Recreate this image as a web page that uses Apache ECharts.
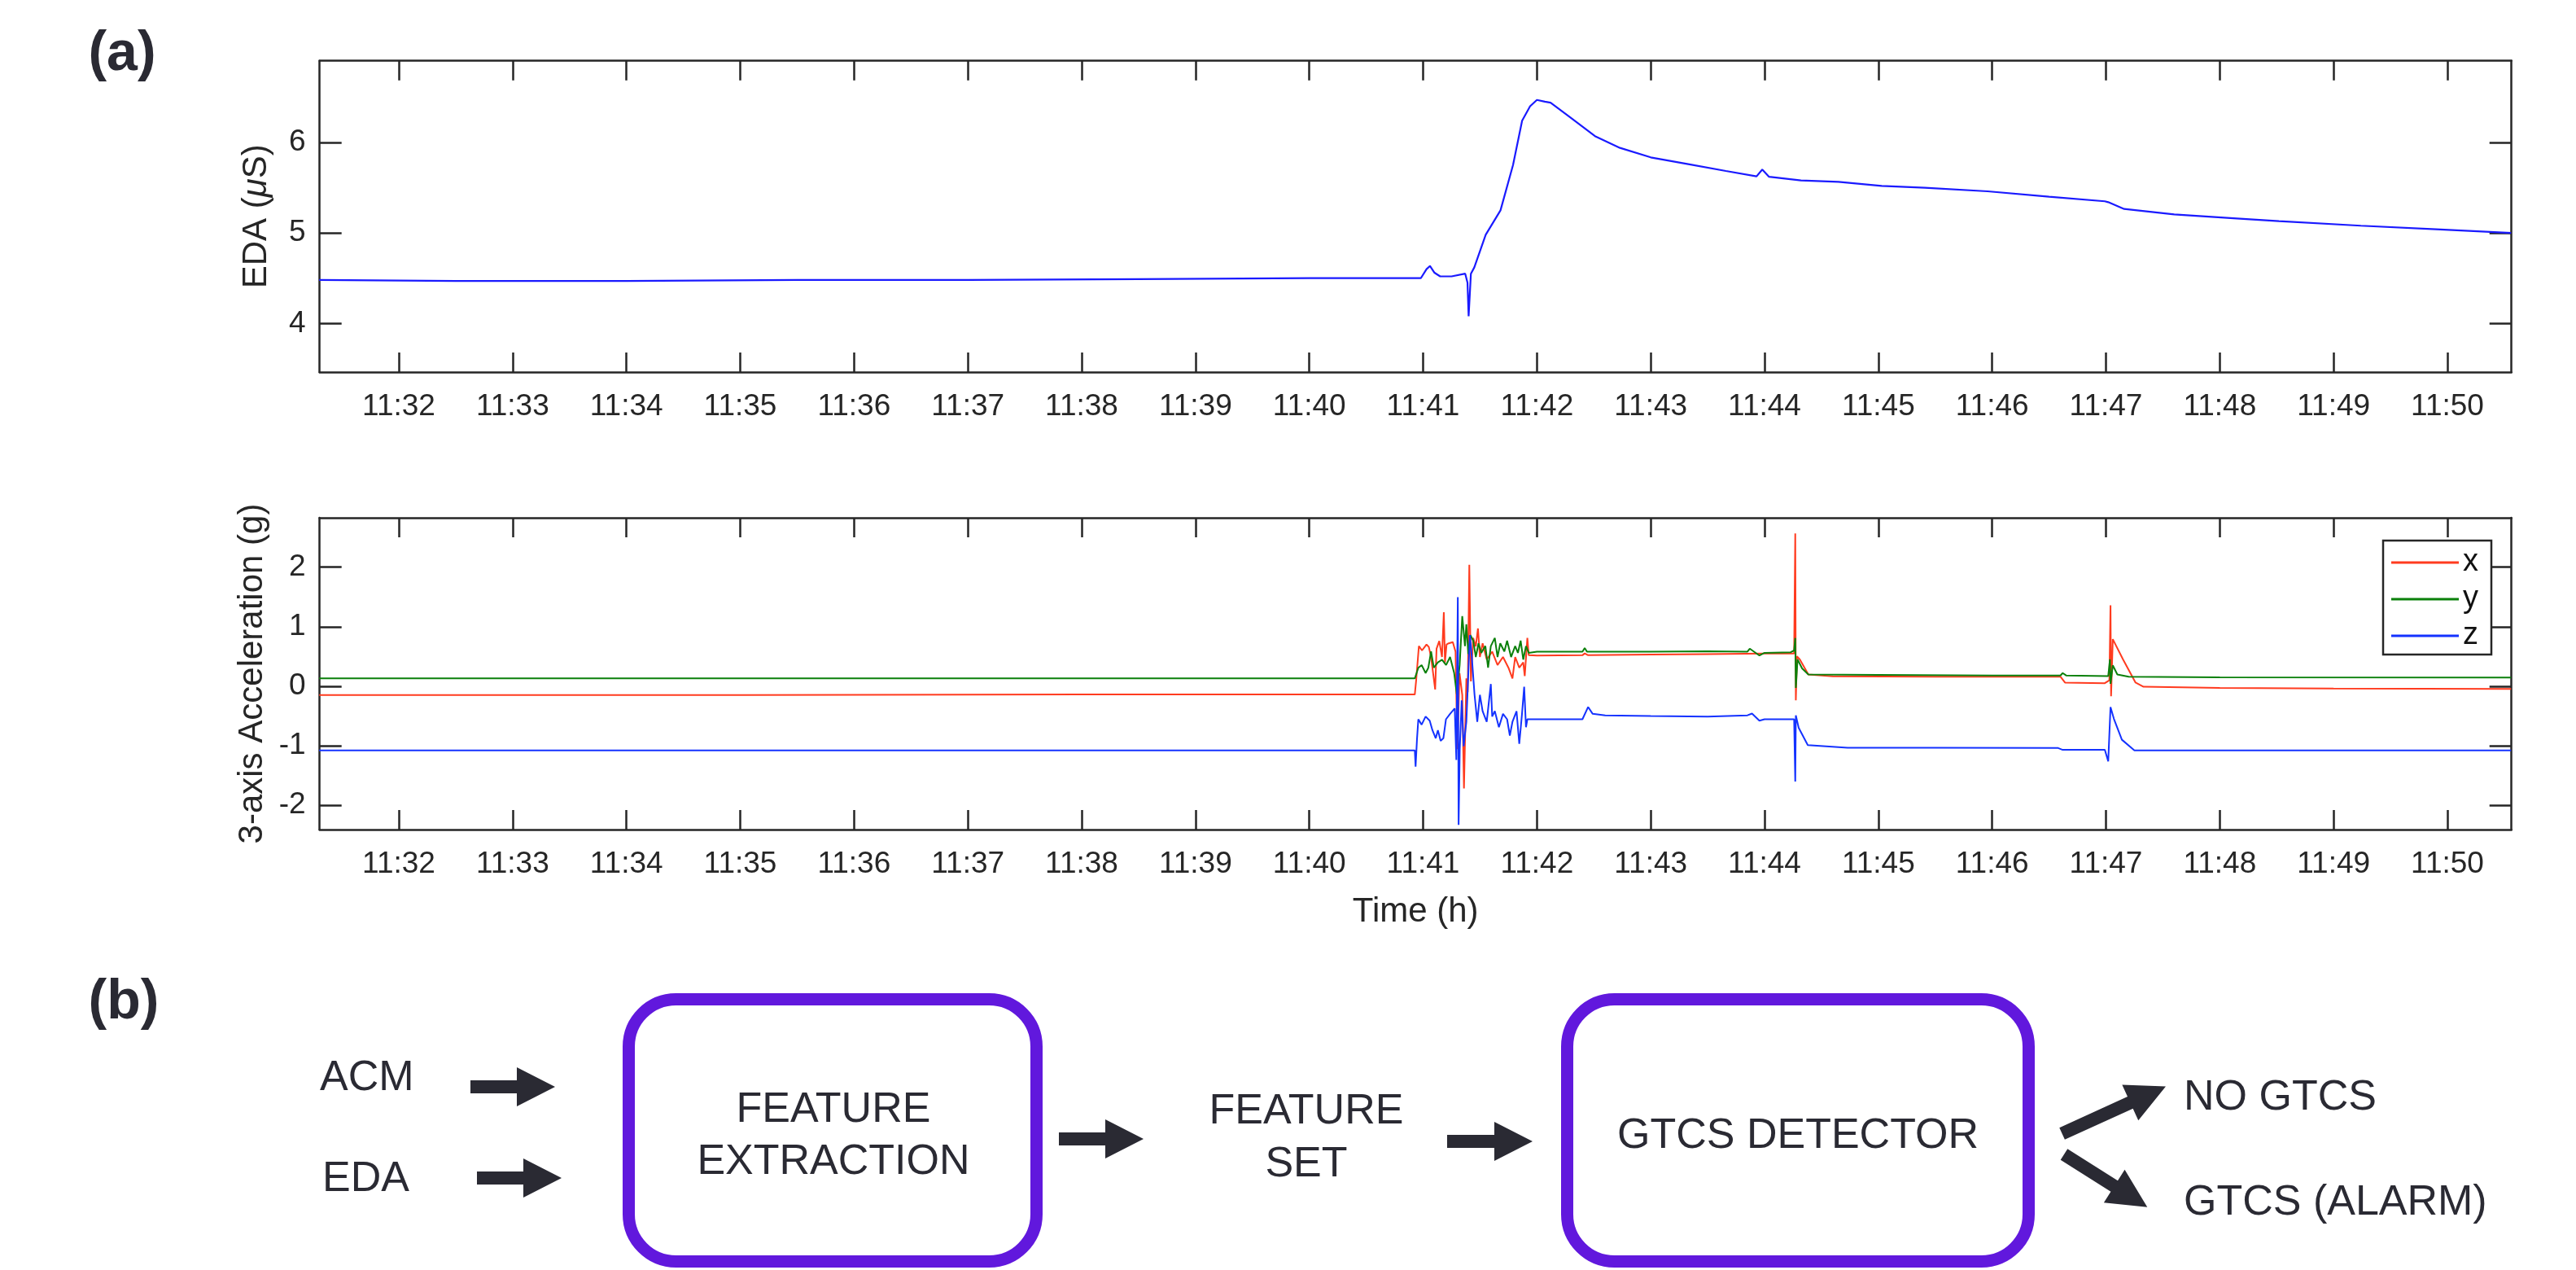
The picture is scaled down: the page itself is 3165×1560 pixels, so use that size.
<!DOCTYPE html>
<html><head><meta charset="utf-8">
<script src="https://cdn.jsdelivr.net/npm/echarts@6/dist/echarts.min.js"></script>
<style>html,body{margin:0;padding:0;background:#fff}#c{width:3165px;height:1560px}</style>
</head><body><div id="c"></div><script>
// ---------- data (time in minutes after 11:00) ----------
const tickMinutes = [32,33,34,35,36,37,38,39,40,41,42,43,44,45,46,47,48,49,50];
const tickLabels = ['11:32','11:33','11:34','11:35','11:36','11:37','11:38','11:39','11:40','11:41','11:42','11:43','11:44','11:45','11:46','11:47','11:48','11:49','11:50'];
const edaTicks = [4,5,6];
const accTicks = [-2,-1,0,1,2];

const edaTime = [31.30,32.5,34.0,35.5,37.0,38.5,40.0,40.98,41.03,41.06,41.10,41.15,41.25,41.37,41.39,41.40,41.42,41.45,41.55,41.68,41.79,41.87,41.94,42.00,42.07,42.12,42.29,42.51,42.73,43.00,43.33,43.66,43.93,43.98,44.04,44.32,44.65,45.03,45.41,45.96,46.50,46.99,47.02,47.16,47.60,48.15,48.52,49.24,49.90,50.56];
const edaValues = [4.48,4.47,4.47,4.48,4.48,4.49,4.50,4.50,4.60,4.635,4.56,4.52,4.52,4.55,4.45,4.08,4.55,4.62,4.98,5.25,5.75,6.24,6.40,6.47,6.45,6.44,6.28,6.07,5.94,5.835,5.76,5.685,5.625,5.70,5.62,5.58,5.565,5.52,5.50,5.46,5.40,5.35,5.34,5.265,5.205,5.16,5.13,5.08,5.04,5.00];

const accXTime = [31.30,35.0,38.0,40.927,40.939,40.963,40.99,41.01,41.03,41.05,41.07,41.106,41.118,41.142,41.166,41.182,41.192,41.206,41.225,41.261,41.285,41.301,41.32,41.344,41.359,41.38,41.392,41.406,41.420,41.440,41.463,41.482,41.499,41.523,41.559,41.607,41.654,41.702,41.750,41.785,41.809,41.845,41.880,41.893,41.916,41.928,42.0,42.4,42.42,42.45,43.0,43.5,44.0,44.23,44.26,44.27,44.275,44.285,44.31,44.385,44.6,45.5,46.6,46.64,46.99,47.03,47.04,47.045,47.06,47.15,47.26,47.33,48.0,49.0,50.56];
const accXValues = [-0.15,-0.15,-0.14,-0.14,0.10,0.675,0.60,0.65,0.70,0.66,0.49,-0.055,0.63,0.76,0.49,1.244,0.40,0.70,0.72,0.74,0.58,-1.057,0.22,-0.146,-1.718,0.13,-0.10,2.04,0.08,0.81,0.67,0.97,0.49,0.72,0.45,0.58,0.355,0.49,0.31,0.13,0.49,0.31,0.40,0.17,0.81,0.52,0.515,0.52,0.55,0.52,0.53,0.54,0.55,0.55,0.55,2.565,-0.237,0.50,0.45,0.196,0.165,0.16,0.16,0.06,0.05,0.10,1.358,-0.17,0.79,0.45,0.06,-0.01,-0.03,-0.04,-0.046];

const accYTime = [31.30,36.0,40.927,40.939,40.958,40.987,41.022,41.046,41.070,41.094,41.130,41.166,41.202,41.237,41.273,41.297,41.321,41.344,41.368,41.380,41.397,41.416,41.440,41.463,41.487,41.511,41.547,41.571,41.595,41.630,41.654,41.678,41.714,41.738,41.773,41.809,41.833,41.857,41.880,41.904,41.928,42.0,42.40,42.42,42.44,43.0,43.5,43.85,43.87,43.955,44.0,44.23,44.26,44.27,44.275,44.29,44.33,44.385,45.0,46.0,46.6,46.62,46.65,47.02,47.035,47.04,47.06,47.10,47.20,48.0,50.56];
const accYValues = [0.13,0.13,0.13,0.20,0.31,0.355,0.22,0.31,0.583,0.31,0.40,0.445,0.355,0.49,0.22,-0.146,0.355,1.176,0.674,1.039,0.538,0.857,0.765,0.49,0.72,0.56,0.674,0.31,0.674,0.81,0.49,0.72,0.583,0.765,0.49,0.674,0.56,0.765,0.447,0.674,0.56,0.58,0.58,0.64,0.58,0.58,0.585,0.58,0.63,0.515,0.56,0.57,0.60,0.81,-0.03,0.45,0.30,0.196,0.19,0.18,0.18,0.22,0.18,0.17,0.45,0.04,0.35,0.196,0.16,0.15,0.146];

const accZTime = [31.30,36.0,40.927,40.934,40.946,40.958,40.987,41.022,41.058,41.082,41.111,41.130,41.154,41.178,41.201,41.237,41.278,41.292,41.305,41.312,41.322,41.339,41.356,41.380,41.411,41.428,41.452,41.476,41.499,41.523,41.559,41.595,41.607,41.630,41.666,41.702,41.738,41.762,41.785,41.821,41.845,41.869,41.888,41.904,41.916,42.0,42.40,42.45,42.49,42.6,43.0,43.5,43.85,43.89,43.955,44.0,44.26,44.27,44.275,44.30,44.38,44.73,45.5,46.58,46.62,46.99,47.02,47.04,47.07,47.14,47.25,48.0,50.56];
const accZValues = [-1.08,-1.08,-1.08,-1.353,-0.90,-0.556,-0.647,-0.51,-0.58,-0.74,-0.875,-0.74,-0.92,-0.875,-0.556,-0.465,-0.374,-1.24,1.495,-2.33,-1.06,-0.237,-1.01,-0.60,0.857,0.49,-0.146,-0.60,-0.146,-0.42,-0.60,0.036,-0.51,-0.42,-0.69,-0.465,-0.556,-0.83,-0.60,-0.42,-0.97,-0.465,-0.01,-0.69,-0.556,-0.556,-0.556,-0.35,-0.465,-0.49,-0.50,-0.51,-0.49,-0.46,-0.58,-0.556,-0.556,-1.604,-0.49,-0.70,-0.99,-1.034,-1.035,-1.04,-1.07,-1.07,-1.262,-0.35,-0.55,-0.90,-1.08,-1.08,-1.08];

const zip = (a, b) => a.map((t, i) => [t, b[i]]);

// ---------- style ----------
const FONT = '"Liberation Sans", Arial, Helvetica, sans-serif';
const AX = '#262626';
const INK = '#2a2a33';
const PURPLE = '#6118dd';
const X_MIN = 31.304, X_MAX = 50.563;

function xAx(grid, pos, showLabel, extra) {
  return Object.assign({
    type: 'value', gridIndex: grid, position: pos, min: X_MIN, max: X_MAX,
    axisLine: { show: true, onZero: false, lineStyle: { color: AX, width: 2.5 } },
    axisTick: { show: true, inside: true, length: 24, customValues: tickMinutes, lineStyle: { color: AX, width: 2.5 } },
    axisLabel: showLabel ? { show: true, customValues: tickMinutes, margin: 24, fontSize: 37, fontFamily: FONT, color: AX,
      formatter: v => tickLabels[tickMinutes.indexOf(Math.round(v))] } : { show: false },
    splitLine: { show: false }
  }, extra || {});
}
function yAx(grid, pos, min, max, ticks, showLabel, extra) {
  return Object.assign({
    type: 'value', gridIndex: grid, position: pos, min: min, max: max,
    axisLine: { show: true, onZero: false, lineStyle: { color: AX, width: 2.5 } },
    axisTick: { show: true, inside: true, length: 27, customValues: ticks, lineStyle: { color: AX, width: 2.5 } },
    axisLabel: showLabel ? { show: true, customValues: ticks, margin: 17, fontSize: 37, fontFamily: FONT, color: AX } : { show: false },
    splitLine: { show: false }
  }, extra || {});
}

function arrow(x, y, angleDeg, shaft, head) {
  const a = angleDeg * Math.PI / 180, c = Math.cos(a), s = Math.sin(a);
  const sh = 8, hh = 24;
  const loc = [[0,-sh],[shaft,-sh],[shaft,-hh],[shaft+head,0],[shaft,hh],[shaft,sh],[0,sh]];
  return { type: 'polygon', shape: { points: loc.map(p => [x + p[0]*c - p[1]*s, y + p[0]*s + p[1]*c]) },
    style: { fill: INK }, silent: true };
}
function txt(text, x, y, size, align, weight) {
  return { type: 'text', silent: true, style: { text: text, x: x, y: y, fill: INK, fontSize: size, fontFamily: FONT,
    fontWeight: weight || 'normal', align: align || 'center', verticalAlign: 'middle' } };
}
function box(x0, y0, x1, y1) {
  const w = 15;
  return { type: 'rect', silent: true, shape: { x: x0 + w/2, y: y0 + w/2, width: x1 - x0 - w, height: y1 - y0 - w, r: 58 },
    style: { fill: 'none', stroke: PURPLE, lineWidth: w } };
}

const chart = echarts.init(document.getElementById('c'), null, { renderer: 'canvas' });
chart.setOption({
  animation: false,
  backgroundColor: '#fff',
  textStyle: { fontFamily: FONT },
  grid: [
    { left: 392.7, top: 74.7, width: 2693, height: 382.3 },
    { left: 392.7, top: 636, width: 2693, height: 383 }
  ],
  xAxis: [
    xAx(0, 'bottom', true),
    xAx(0, 'top', false),
    xAx(1, 'bottom', true, { name: 'Time (h)', nameLocation: 'middle', nameGap: 80,
      nameTextStyle: { fontSize: 42, fontFamily: FONT, color: AX } }),
    xAx(1, 'top', false)
  ],
  yAxis: [
    yAx(0, 'left', 3.463, 6.902, edaTicks, true, { name: 'EDA ({mu|μ}S)', nameLocation: 'middle', nameGap: 56,
      nameTextStyle: { fontSize: 42, fontFamily: FONT, color: AX,
        rich: { mu: { fontSize: 42, fontStyle: 'italic', fontFamily: FONT, color: AX } } } }),
    yAx(0, 'right', 3.463, 6.902, edaTicks, false),
    yAx(1, 'left', -2.41, 2.83, accTicks, true, { name: '3-axis Acceleration (g)', nameLocation: 'middle', nameGap: 61,
      nameTextStyle: { fontSize: 42, fontFamily: FONT, color: AX } }),
    yAx(1, 'right', -2.41, 2.83, accTicks, false)
  ],
  legend: {
    data: ['x', 'y', 'z'], orient: 'vertical', left: 2928, top: 664,
    icon: 'rect', itemWidth: 83, itemHeight: 3, itemGap: 5,
    padding: [7, 16, 3, 10], borderColor: AX, borderWidth: 2.5, backgroundColor: '#fff',
    textStyle: { fontSize: 38, lineHeight: 40, fontFamily: FONT, color: '#111' }
  },
  series: [
    { name: 'EDA', type: 'line', xAxisIndex: 0, yAxisIndex: 0, data: zip(edaTime, edaValues),
      showSymbol: false, lineStyle: { color: '#1a1aff', width: 2.2 }, itemStyle: { color: '#1a1aff' } },
    { name: 'x', type: 'line', xAxisIndex: 2, yAxisIndex: 2, data: zip(accXTime, accXValues),
      showSymbol: false, lineStyle: { color: '#ff3b1f', width: 2 }, itemStyle: { color: '#ff3b1f' } },
    { name: 'y', type: 'line', xAxisIndex: 2, yAxisIndex: 2, data: zip(accYTime, accYValues),
      showSymbol: false, lineStyle: { color: '#0b800b', width: 2 }, itemStyle: { color: '#0b800b' } },
    { name: 'z', type: 'line', xAxisIndex: 2, yAxisIndex: 2, data: zip(accZTime, accZValues),
      showSymbol: false, lineStyle: { color: '#1432ff', width: 2 }, itemStyle: { color: '#1432ff' } }
  ],
  graphic: [
    txt('(a)', 150, 67, 68, 'center', 'bold'),
    txt('(b)', 152, 1232, 68, 'center', 'bold'),
    txt('ACM', 393, 1325, 52, 'left'),
    txt('EDA', 396, 1449, 52, 'left'),
    arrow(578, 1335, 0, 57, 47),
    arrow(586, 1447, 0, 57, 47),
    box(765, 1220, 1281, 1557),
    txt('FEATURE', 1024, 1364, 52),
    txt('EXTRACTION', 1024, 1428, 52),
    arrow(1301, 1399, 0, 57, 47),
    txt('FEATURE', 1605, 1366, 52),
    txt('SET', 1605, 1431, 52),
    arrow(1778, 1402, 0, 58, 47),
    box(1918, 1220, 2500, 1557),
    txt('GTCS DETECTOR', 2209, 1396, 52),
    arrow(2533.6, 1392.5, -24.5, 92, 48),
    arrow(2536, 1418, 32.3, 73, 48),
    txt('NO GTCS', 2683, 1349, 52, 'left'),
    txt('GTCS (ALARM)', 2683, 1478, 52, 'left')
  ]
});
</script></body></html>
